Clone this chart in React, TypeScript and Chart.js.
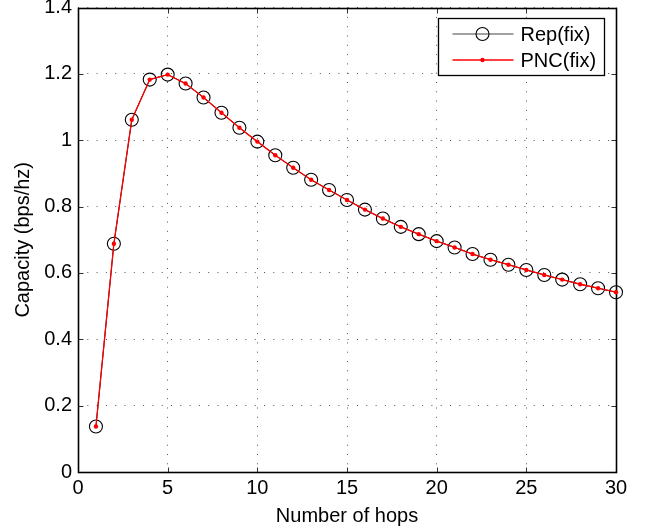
import React, { useEffect, useRef } from 'react';
import { Chart, registerables } from 'chart.js';

Chart.register(...registerables);

const hops = [1, 2, 3, 4, 5, 6, 7, 8, 9, 10, 11, 12, 13, 14, 15, 16, 17, 18, 19, 20, 21, 22, 23, 24, 25, 26, 27, 28, 29, 30];
const repFix = [0.137, 0.688, 1.062, 1.183, 1.198, 1.171, 1.129, 1.083, 1.038, 0.996, 0.955, 0.917, 0.881, 0.850, 0.820, 0.791, 0.764, 0.739, 0.717, 0.696, 0.677, 0.657, 0.640, 0.625, 0.609, 0.594, 0.580, 0.566, 0.554, 0.542];
const pncFix = [0.137, 0.688, 1.062, 1.183, 1.198, 1.171, 1.129, 1.083, 1.038, 0.996, 0.955, 0.917, 0.881, 0.850, 0.820, 0.791, 0.764, 0.739, 0.717, 0.696, 0.677, 0.657, 0.640, 0.625, 0.609, 0.594, 0.580, 0.566, 0.554, 0.542];
const xTicks = [0, 5, 10, 15, 20, 25, 30];
const yTicks = [0, 0.2, 0.4, 0.6, 0.8, 1, 1.2, 1.4];
const seriesLabels = ['Rep(fix)', 'PNC(fix)'];
const xTitle = 'Number of hops';
const yTitle = 'Capacity (bps/hz)';

const FAMILY = "'Liberation Sans', Arial, Helvetica, sans-serif";
const FONT = { family: FAMILY, size: 20 };

const framePlugin = {
  id: 'matlabFrame',
  beforeDatasetsDraw(chart: any) {
    const { ctx, chartArea: a, scales } = chart;
    const x = scales.x;
    const y = scales.y;
    const L = Math.round(a.left) + 0.5;
    const R = Math.round(a.right) + 0.5;
    const T = Math.round(a.top) + 0.5;
    const B = Math.round(a.bottom) + 0.5;
    ctx.save();
    ctx.setLineDash([]);
    ctx.strokeStyle = '#000';
    const tl = 5;
    ctx.lineWidth = 1;
    ctx.strokeStyle = '#333';
    ctx.beginPath();
    xTicks.forEach((v) => {
      const px = Math.round(x.getPixelForValue(v)) + 0.5;
      ctx.moveTo(px, B);
      ctx.lineTo(px, B - tl);
      ctx.moveTo(px, T);
      ctx.lineTo(px, T + tl);
    });
    yTicks.forEach((v) => {
      const py = Math.round(y.getPixelForValue(v)) + 0.5;
      ctx.moveTo(L, py);
      ctx.lineTo(L + tl, py);
      ctx.moveTo(R, py);
      ctx.lineTo(R - tl, py);
    });
    ctx.stroke();
    ctx.strokeStyle = '#000';
    ctx.lineWidth = 1.6;
    ctx.strokeRect(L, T, R - L, B - T);
    ctx.restore();
  },
  afterDraw(chart: any) {
    const { ctx, chartArea: a } = chart;
    const w = 166;
    const h = 57;
    const lx = Math.round(a.right) - 12 - w + 0.5;
    const ly = Math.round(a.top) + 10 + 0.5;
    ctx.save();
    ctx.setLineDash([]);
    ctx.fillStyle = '#fff';
    ctx.fillRect(lx, ly, w, h);
    ctx.strokeStyle = '#000';
    ctx.lineWidth = 1.3;
    ctx.strokeRect(lx, ly, w, h);
    const ds = chart.data.datasets;
    [0, 1].forEach((i) => {
      const d = ds[i];
      const cy = ly + 15.5 + i * 26;
      ctx.strokeStyle = i === 0 ? '#444' : d.borderColor;
      ctx.lineWidth = d.borderWidth;
      ctx.beginPath();
      ctx.moveTo(lx + 14, cy);
      ctx.lineTo(lx + 75, cy);
      ctx.stroke();
      const mx = lx + 44;
      ctx.beginPath();
      ctx.arc(mx, cy, d.pointRadius, 0, Math.PI * 2);
      if (i === 0) {
        ctx.strokeStyle = d.pointBorderColor;
        ctx.lineWidth = d.pointBorderWidth;
        ctx.stroke();
      } else {
        ctx.fillStyle = d.pointBackgroundColor;
        ctx.fill();
      }
      ctx.fillStyle = '#000';
      ctx.font = `${FONT.size}px ${FAMILY}`;
      ctx.textBaseline = 'middle';
      ctx.textAlign = 'left';
      ctx.fillText(d.label, lx + 82, cy + 1);
    });
    ctx.restore();
  },
};

export default function App() {
  const ref = useRef<HTMLCanvasElement | null>(null);

  useEffect(() => {
    const canvas = ref.current;
    if (!canvas) return;
    const chart = new Chart(canvas, {
      type: 'line',
      data: {
        datasets: [
          {
            label: seriesLabels[0],
            data: hops.map((h, i) => ({ x: h, y: repFix[i] })),
            borderColor: '#000',
            borderWidth: 1,
            pointStyle: 'circle',
            pointRadius: 6.5,
            pointBorderColor: '#000',
            pointBackgroundColor: 'rgba(0,0,0,0)',
            pointBorderWidth: 1.1,
            tension: 0,
            order: 2,
            clip: false,
          } as any,
          {
            label: seriesLabels[1],
            data: hops.map((h, i) => ({ x: h, y: pncFix[i] })),
            borderColor: '#ff0000',
            borderWidth: 1.3,
            pointStyle: 'circle',
            pointRadius: 2.2,
            pointBorderColor: '#ff0000',
            pointBackgroundColor: '#ff0000',
            pointBorderWidth: 0,
            tension: 0,
            order: 1,
            clip: false,
          } as any,
        ],
      },
      options: {
        animation: false,
        responsive: false,
        devicePixelRatio: 1,
        events: [],
        layout: { padding: { left: 0, right: 30, top: 7, bottom: 0 } },
        plugins: { legend: { display: false }, tooltip: { enabled: false } },
        scales: {
          x: {
            type: 'linear',
            min: 0,
            max: 30,
            afterBuildTicks: (s: any) => {
              s.ticks = xTicks.map((v) => ({ value: v }));
            },
            afterFit: (s: any) => {
              s.height = 59;
              s.paddingLeft = 0;
              s.paddingRight = 0;
            },
            ticks: {
              color: '#000',
              font: FONT,
              padding: 4,
              maxRotation: 0,
              autoSkip: false,
              callback: (v: any) => String(v),
            },
            grid: { color: '#555', lineWidth: 1, drawTicks: false },
            border: { display: false, dash: [1, 8.3] },
            title: { display: true, text: xTitle, color: '#000', font: FONT, padding: { top: 0, bottom: 3 } },
          },
          y: {
            type: 'linear',
            min: 0,
            max: 1.4,
            afterBuildTicks: (s: any) => {
              s.ticks = yTicks.map((v) => ({ value: v }));
            },
            afterFit: (s: any) => {
              s.width = 78;
              s.paddingTop = 0;
              s.paddingBottom = 0;
            },
            ticks: {
              color: '#000',
              font: FONT,
              padding: 6,
              autoSkip: false,
              callback: (v: any) => String(v),
            },
            grid: { color: '#555', lineWidth: 1, drawTicks: false },
            border: { display: false, dash: [1, 8.3] },
            title: { display: true, text: yTitle, color: '#000', font: FONT, padding: { top: 11, bottom: 0 } },
          },
        },
      } as any,
      plugins: [framePlugin],
    });
    return () => chart.destroy();
  }, []);

  return (
    <div style={{ position: 'absolute', left: 0, top: 0, width: 646, height: 531, background: '#fff' }}>
      <canvas ref={ref} width={646} height={531} style={{ display: 'block' }} />
    </div>
  );
}
